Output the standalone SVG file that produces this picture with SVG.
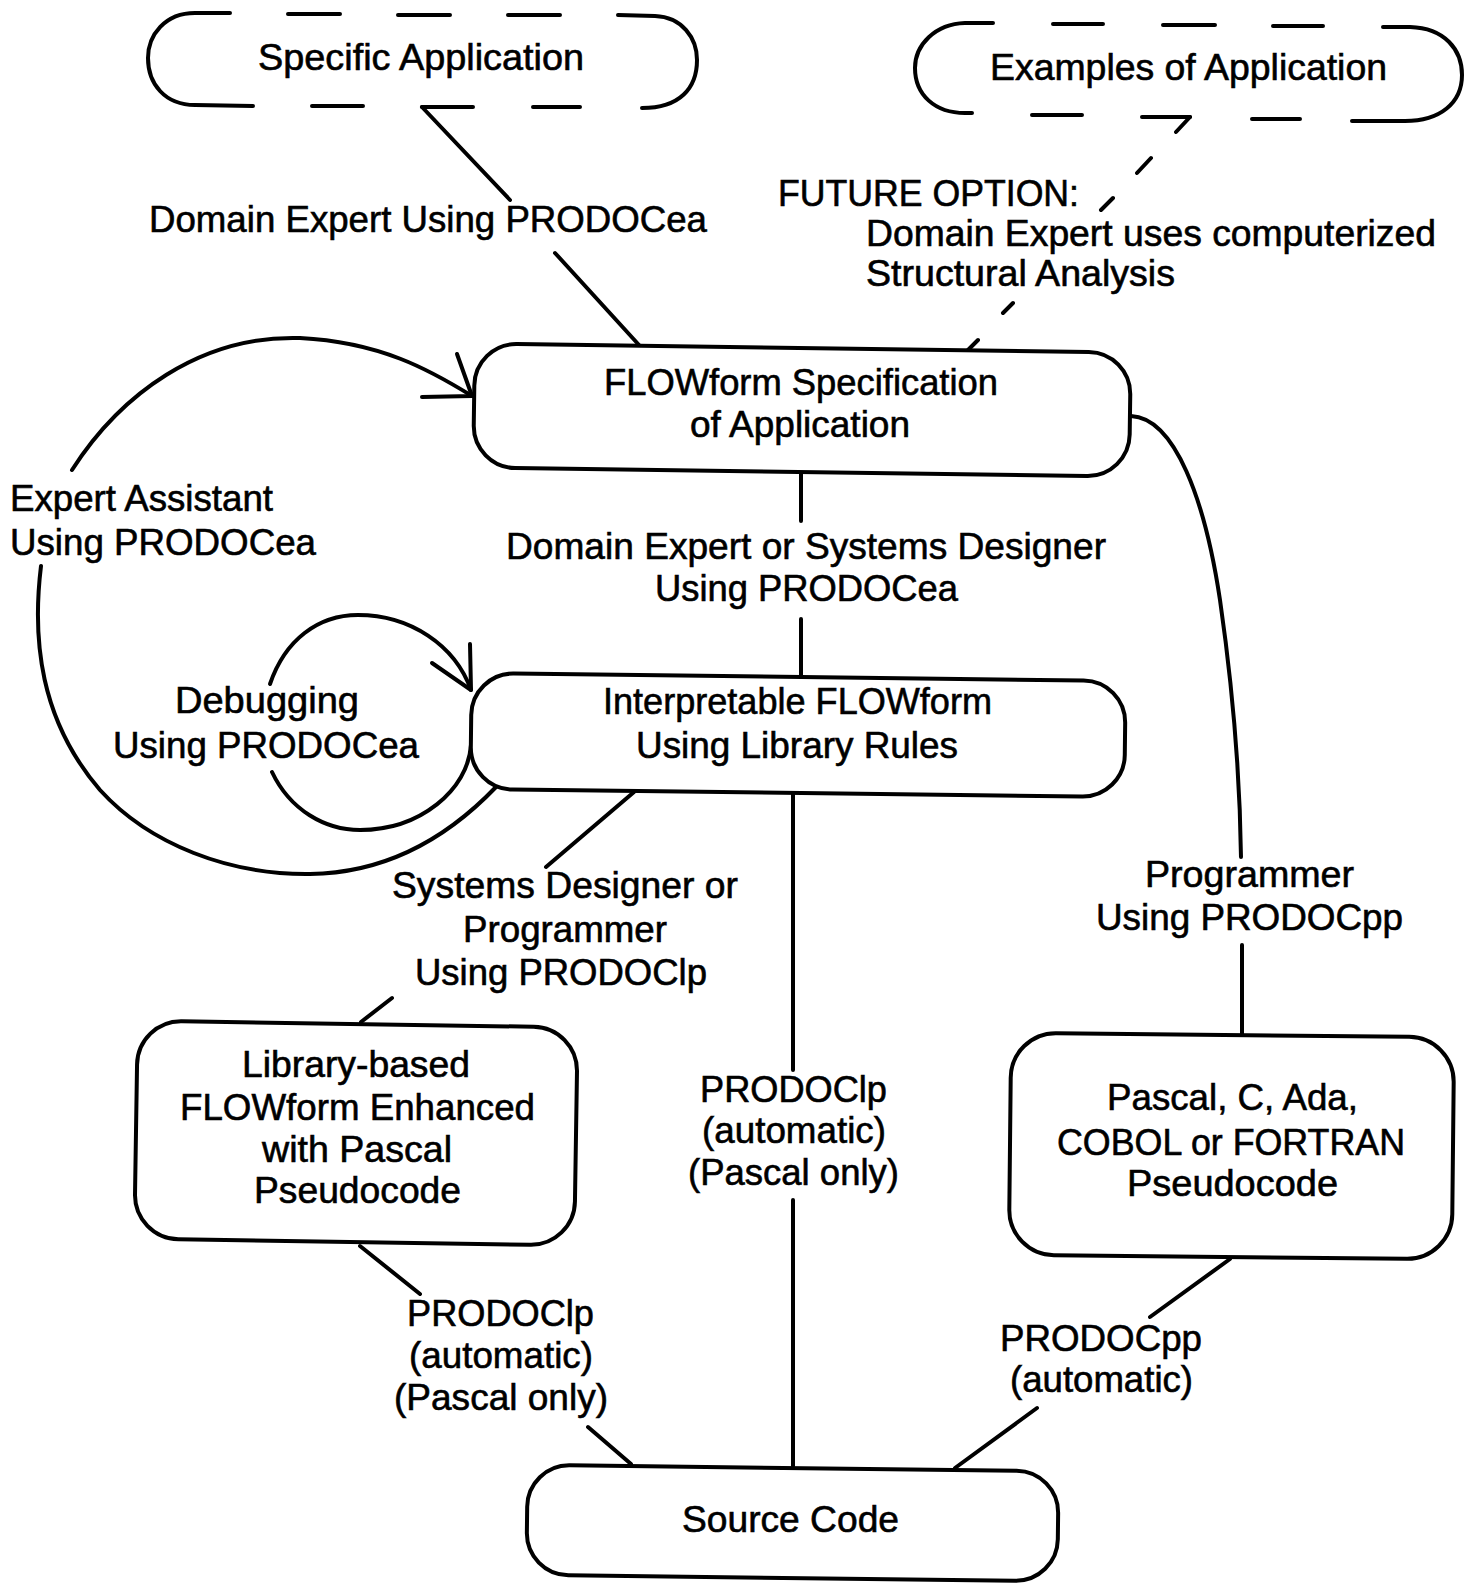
<svg xmlns="http://www.w3.org/2000/svg" width="1466" height="1584" viewBox="0 0 1466 1584">
<style>
.box{fill:#fff;stroke:#000;stroke-width:4}
.ln{fill:none;stroke:#000;stroke-width:4;stroke-linecap:round;stroke-linejoin:round}
text{font-family:"Liberation Sans",Arial,Helvetica,sans-serif;font-size:36px;fill:#000;stroke:#000;stroke-width:0.6}
</style>
<rect width="1466" height="1584" fill="#fff"/>

<g id="connectors">
  <!-- Specific Application -> FLOWform Spec -->
  <path class="ln" d="M422,107 L510,200 M555,253 L639,345"/>
  <!-- Examples -> FLOWform Spec (dashed, future option) -->
  <path class="ln" d="M1190,117 L1176,132 M1151,158 L1137,173 M1113,198 L1101,210 M1013,303 L1003,313 M978,340 L968,350"/>
  <!-- FLOWform Spec -> Interpretable -->
  <path class="ln" d="M801,474 L801,521 M801,619 L801,677"/>
  <!-- Expert Assistant loop -->
  <path class="ln" d="M72,470 C120,395 200,335 300,338 C380,342 430,370 472,396"/>
  <path class="ln" d="M457,354 L472,396 L422,397"/>
  <path class="ln" d="M41,566 C32,640 40,720 100,790 C150,845 230,875 310,874 C390,873 450,835 496,787"/>
  <!-- Debugging loop -->
  <path class="ln" d="M270,684 C285,640 318,615 358,615 C410,615 455,645 471,690"/>
  <path class="ln" d="M470,644 L471,690 L432,663"/>
  <path class="ln" d="M272,772 C290,810 325,830 360,830 C420,830 468,790 471,745"/>
  <!-- Interpretable -> Library-based -->
  <path class="ln" d="M634,792 L546,867 M392,998 L361,1022"/>
  <!-- Interpretable -> Source Code -->
  <path class="ln" d="M793,793 L793,1070 M793,1200 L793,1466"/>
  <!-- FLOWform Spec -> Pascal/C/Ada -->
  <path class="ln" d="M1131,416 C1175,418 1205,500 1220,600 C1233,690 1240,780 1241,857"/>
  <path class="ln" d="M1242,945 L1242,1036"/>
  <!-- Library-based -> Source Code -->
  <path class="ln" d="M360,1246 L420,1294 M588,1427 L631,1464"/>
  <!-- Pascal/C/Ada -> Source Code -->
  <path class="ln" d="M1230,1259 L1150,1317 M1037,1408 L955,1468"/>
</g>

<g id="edge-labels">
  <text x="149" y="232" textLength="558" lengthAdjust="spacingAndGlyphs">Domain Expert Using PRODOCea</text>
  <text x="778" y="206" textLength="301" lengthAdjust="spacingAndGlyphs">FUTURE OPTION:</text>
  <text x="866" y="246" textLength="570" lengthAdjust="spacingAndGlyphs">Domain Expert uses computerized</text>
  <text x="866" y="286" textLength="309" lengthAdjust="spacingAndGlyphs">Structural Analysis</text>
  <text x="10" y="511" textLength="263" lengthAdjust="spacingAndGlyphs">Expert Assistant</text>
  <text x="10" y="555" textLength="306" lengthAdjust="spacingAndGlyphs">Using PRODOCea</text>
  <text x="506" y="559" textLength="600" lengthAdjust="spacingAndGlyphs">Domain Expert or Systems Designer</text>
  <text x="655" y="601" textLength="303" lengthAdjust="spacingAndGlyphs">Using PRODOCea</text>
  <text x="175" y="713" textLength="184" lengthAdjust="spacingAndGlyphs">Debugging</text>
  <text x="113" y="758" textLength="306" lengthAdjust="spacingAndGlyphs">Using PRODOCea</text>
  <text x="392" y="898" textLength="346" lengthAdjust="spacingAndGlyphs">Systems Designer or</text>
  <text x="463" y="942" textLength="204" lengthAdjust="spacingAndGlyphs">Programmer</text>
  <text x="415" y="985" textLength="292" lengthAdjust="spacingAndGlyphs">Using PRODOClp</text>
  <text x="700" y="1102" textLength="187" lengthAdjust="spacingAndGlyphs">PRODOClp</text>
  <text x="702" y="1143" textLength="184" lengthAdjust="spacingAndGlyphs">(automatic)</text>
  <text x="688" y="1185" textLength="211" lengthAdjust="spacingAndGlyphs">(Pascal only)</text>
  <text x="1145" y="887" textLength="209" lengthAdjust="spacingAndGlyphs">Programmer</text>
  <text x="1096" y="930" textLength="307" lengthAdjust="spacingAndGlyphs">Using PRODOCpp</text>
  <text x="407" y="1326" textLength="187" lengthAdjust="spacingAndGlyphs">PRODOClp</text>
  <text x="409" y="1368" textLength="184" lengthAdjust="spacingAndGlyphs">(automatic)</text>
  <text x="394" y="1410" textLength="214" lengthAdjust="spacingAndGlyphs">(Pascal only)</text>
  <text x="1000" y="1351" textLength="202" lengthAdjust="spacingAndGlyphs">PRODOCpp</text>
  <text x="1010" y="1392" textLength="183" lengthAdjust="spacingAndGlyphs">(automatic)</text>
</g>

<g id="node-specific-application">
  <path class="ln" d="M230,13 L195,13 C165,13 148,35 148,58 C148,84 165,105 195,105 L253,106"/>
  <path class="ln" d="M618,15 L655,16 C682,17 697,38 697,60 C697,88 680,108 642,108"/>
  <path class="ln" d="M288,14 H340 M398,15 H450 M508,15 H560 M312,106 H363 M422,107 H473 M533,107 H580"/>
  <text x="258" y="70" textLength="326" lengthAdjust="spacingAndGlyphs">Specific Application</text>
</g>

<g id="node-examples-of-application">
  <path class="ln" d="M993,23 L965,23 C935,24 915,45 915,68 C915,95 935,113 965,113 L972,113"/>
  <path class="ln" d="M1383,27 L1410,27 C1445,28 1462,50 1462,75 C1462,103 1440,121 1405,121 L1352,121"/>
  <path class="ln" d="M1053,24 H1103 M1163,25 H1215 M1273,26 H1323 M1032,115 H1082 M1142,117 H1190 M1252,119 H1300"/>
  <text x="990" y="80" textLength="397" lengthAdjust="spacingAndGlyphs">Examples of Application</text>
</g>

<g id="node-flowform-specification">
  <rect class="box" x="474" y="348" width="656" height="124" rx="42" transform="rotate(0.8 802 410)"/>
  <text x="604" y="395" textLength="394" lengthAdjust="spacingAndGlyphs">FLOWform Specification</text>
  <text x="690" y="437" textLength="220" lengthAdjust="spacingAndGlyphs">of Application</text>
</g>

<g id="node-interpretable-flowform">
  <rect class="box" x="471" y="677" width="654" height="116" rx="42" transform="rotate(0.7 798 735)"/>
  <text x="603" y="714" textLength="389" lengthAdjust="spacingAndGlyphs">Interpretable FLOWform</text>
  <text x="636" y="758" textLength="322" lengthAdjust="spacingAndGlyphs">Using Library Rules</text>
</g>

<g id="node-library-based">
  <rect class="box" x="136" y="1024" width="440" height="218" rx="44" transform="rotate(0.9 356 1133)"/>
  <text x="242" y="1077" textLength="228" lengthAdjust="spacingAndGlyphs">Library-based</text>
  <text x="180" y="1120" textLength="355" lengthAdjust="spacingAndGlyphs">FLOWform Enhanced</text>
  <text x="262" y="1162" textLength="190" lengthAdjust="spacingAndGlyphs">with Pascal</text>
  <text x="254" y="1203" textLength="207" lengthAdjust="spacingAndGlyphs">Pseudocode</text>
</g>

<g id="node-pascal-pseudocode">
  <rect class="box" x="1010" y="1035" width="443" height="222" rx="45" transform="rotate(0.6 1231 1146)"/>
  <text x="1107" y="1110" textLength="251" lengthAdjust="spacingAndGlyphs">Pascal, C, Ada,</text>
  <text x="1057" y="1155" textLength="348" lengthAdjust="spacingAndGlyphs">COBOL or FORTRAN</text>
  <text x="1127" y="1196" textLength="211" lengthAdjust="spacingAndGlyphs">Pseudocode</text>
</g>

<g id="node-source-code">
  <rect class="box" x="527" y="1468" width="531" height="110" rx="42" transform="rotate(0.7 792 1523)"/>
  <text x="682" y="1532" textLength="217" lengthAdjust="spacingAndGlyphs">Source Code</text>
</g>
</svg>
